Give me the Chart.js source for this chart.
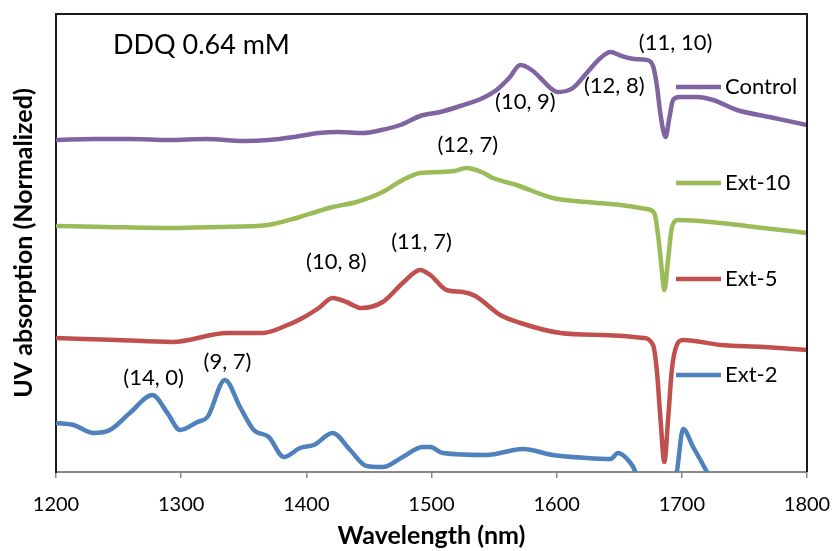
<!DOCTYPE html>
<html>
<head>
<meta charset="utf-8">
<script src="https://cdn.jsdelivr.net/npm/chart.js@4.4.0/dist/chart.umd.min.js"></script>
<style>
  html, body { margin: 0; padding: 0; background: #fff; }
  #wrap { width: 832px; height: 551px; }
</style>
</head>
<body>
<div id="wrap"><canvas id="uv-chart" width="832" height="551"></canvas></div>
<script>
// series (normalized, stacked with offsets)
const seriesNames = ['Control', 'Ext-10', 'Ext-5', 'Ext-2'];
const seriesColors = ['#8064A2', '#9BBB59', '#C0504D', '#4F81BD'];

const controlNm = [1200, 1230, 1260, 1290, 1320, 1350, 1370, 1390, 1410, 1425, 1445, 1460, 1475, 1491, 1507, 1523, 1541, 1552, 1562, 1571, 1580, 1587, 1595, 1601, 1613, 1624, 1635, 1643, 1652, 1662, 1672, 1677, 1680, 1683, 1687, 1690, 1693, 1698, 1712, 1725, 1744, 1770, 1800];
const controlAbs = [3.32, 3.33, 3.33, 3.32, 3.33, 3.31, 3.32, 3.35, 3.39, 3.40, 3.39, 3.42, 3.47, 3.56, 3.60, 3.66, 3.74, 3.82, 3.94, 4.07, 4.02, 3.94, 3.84, 3.80, 3.84, 3.99, 4.14, 4.20, 4.16, 4.13, 4.12, 4.06, 3.87, 3.57, 3.35, 3.54, 3.72, 3.75, 3.75, 3.72, 3.62, 3.55, 3.47];

const ext10Nm = [1200, 1240, 1293, 1330, 1369, 1392, 1410, 1421, 1440, 1461, 1477, 1491, 1507, 1518, 1528, 1540, 1549, 1568, 1597, 1624, 1651, 1672, 1678, 1681, 1684, 1686, 1689, 1692, 1697, 1731, 1765, 1800];
const ext10Abs = [2.46, 2.45, 2.44, 2.45, 2.47, 2.54, 2.61, 2.65, 2.70, 2.80, 2.92, 2.99, 3.00, 3.01, 3.04, 3.00, 2.94, 2.87, 2.74, 2.70, 2.67, 2.63, 2.59, 2.37, 2.02, 1.82, 2.12, 2.44, 2.52, 2.49, 2.44, 2.39];

const ext5Nm = [1200, 1249, 1293, 1337, 1365, 1385, 1397, 1410, 1421, 1432, 1444, 1461, 1477, 1491, 1499, 1512, 1525, 1535, 1555, 1571, 1603, 1637, 1669, 1677, 1680, 1683, 1686, 1689, 1692, 1696, 1701, 1731, 1765, 1800];
const ext5Abs = [1.34, 1.32, 1.30, 1.39, 1.39, 1.47, 1.54, 1.64, 1.74, 1.70, 1.64, 1.70, 1.89, 2.02, 1.97, 1.82, 1.80, 1.76, 1.57, 1.49, 1.39, 1.37, 1.34, 1.27, 1.02, 0.52, 0.10, 0.52, 1.02, 1.27, 1.32, 1.27, 1.25, 1.22];

const ext2Nm = [1200, 1214, 1230, 1243, 1259, 1277, 1289, 1299, 1313, 1321, 1335, 1347, 1358, 1370, 1382, 1395, 1406, 1421, 1435, 1448, 1461, 1477, 1493, 1499, 1509, 1544, 1573, 1597, 1624, 1643, 1649, 1657, 1663, 1669, 1690, 1696, 1701, 1709, 1720, 1730];
const ext2Abs = [0.49, 0.47, 0.39, 0.42, 0.59, 0.77, 0.59, 0.42, 0.50, 0.55, 0.92, 0.65, 0.42, 0.35, 0.15, 0.24, 0.27, 0.39, 0.22, 0.06, 0.05, 0.15, 0.25, 0.25, 0.19, 0.17, 0.23, 0.17, 0.14, 0.13, 0.19, 0.12, 0.0, -0.3, -0.3, 0.0, 0.43, 0.25, 0.0, -0.3];

const xTicks = [1200, 1300, 1400, 1500, 1600, 1700, 1800];

// chirality labels (n, m) placed next to peaks
const peakText = ['(11, 10)', '(10, 9)', '(12, 8)', '(12, 7)', '(10, 8)', '(11, 7)', '(14, 0)', '(9, 7)'];
const peakNm = [1695, 1575, 1646, 1529, 1424, 1492, 1278, 1337];
const peakAbs = [4.29, 3.70, 3.86, 3.27, 2.10, 2.30, 0.94, 1.10];

const noteText = 'DDQ 0.64 mM';

const seriesNm = [controlNm, ext10Nm, ext5Nm, ext2Nm];
const seriesAbs = [controlAbs, ext10Abs, ext5Abs, ext2Abs];

const datasets = seriesNames.map((name, i) => ({
  label: name,
  data: seriesNm[i].map((x, j) => ({ x, y: seriesAbs[i][j] })),
  borderColor: seriesColors[i],
  backgroundColor: seriesColors[i],
  borderWidth: 4.5,
  pointRadius: 0,
  cubicInterpolationMode: 'monotone',
  fill: false
}));

const frame = {
  id: 'frame',
  afterDatasetsDraw(chart) {
    const { ctx, chartArea: a } = chart;
    ctx.save();
    ctx.strokeStyle = '#1a1a1a';
    ctx.lineWidth = 2;
    ctx.beginPath();
    ctx.moveTo(a.left, a.top);
    ctx.lineTo(a.right, a.top);
    ctx.lineTo(a.right, a.bottom);
    ctx.stroke();
    ctx.restore();
  }
};

const notes = {
  id: 'notes',
  afterDatasetsDraw(chart) {
    const { ctx, chartArea: a, scales } = chart;
    ctx.save();
    ctx.fillStyle = '#000';
    ctx.textAlign = 'center';
    ctx.textBaseline = 'middle';
    ctx.font = '22px Lato';
    peakText.forEach((t, i) => {
      ctx.fillText(t, scales.x.getPixelForValue(peakNm[i]), scales.y.getPixelForValue(peakAbs[i]));
    });

    ctx.font = '27px Lato';
    ctx.textAlign = 'left';
    ctx.fillText(noteText, a.left + 57, a.top + 31);

    // legend, stacked beside each curve
    ctx.font = '22px Lato';
    seriesNames.forEach((name, i) => {
      const y = a.top + 73 + i * 96;
      ctx.strokeStyle = seriesColors[i];
      ctx.lineWidth = 4.5;
      ctx.beginPath();
      ctx.moveTo(a.right - 131, y);
      ctx.lineTo(a.right - 86, y);
      ctx.stroke();
      ctx.fillStyle = '#000';
      ctx.fillText(name, a.right - 82, y);
    });
    ctx.restore();
  }
};

new Chart(document.getElementById('uv-chart'), {
  type: 'line',
  data: { datasets },
  options: {
    responsive: false,
    animation: false,
    layout: { padding: { top: 14, right: 25, left: 0, bottom: 0 } },
    plugins: { legend: { display: false }, tooltip: { enabled: false } },
    scales: {
      x: {
        type: 'linear',
        min: 1200,
        max: 1800,
        afterBuildTicks: s => { s.ticks = xTicks.map(v => ({ value: v })); },
        afterFit: s => { s.height = 79; s.paddingLeft = 0; s.paddingRight = 0; },
        grid: { drawOnChartArea: false, drawTicks: true, tickLength: 6, color: '#888', lineWidth: 1.5 },
        border: { color: '#888', width: 2 },
        ticks: {
          color: '#000',
          font: { family: 'Lato', size: 20 },
          padding: 15,
          maxRotation: 0,
          callback: v => String(v)
        },
        title: {
          display: true,
          text: 'Wavelength (nm)',
          color: '#000',
          font: { family: 'Lato', size: 25, weight: 'bold' },
          padding: { top: 0, bottom: 0 }
        }
      },
      y: {
        min: 0,
        max: 4.58,
        afterFit: s => { s.width = 56; },
        grid: { display: false },
        border: { color: '#1a1a1a', width: 2 },
        ticks: { display: false },
        title: {
          display: true,
          text: 'UV absorption (Normalized)',
          color: '#000',
          font: { family: 'Lato', size: 25, weight: 'bold' },
          padding: { top: 9, bottom: 0 }
        }
      }
    }
  },
  plugins: [frame, notes]
});
</script>
</body>
</html>
